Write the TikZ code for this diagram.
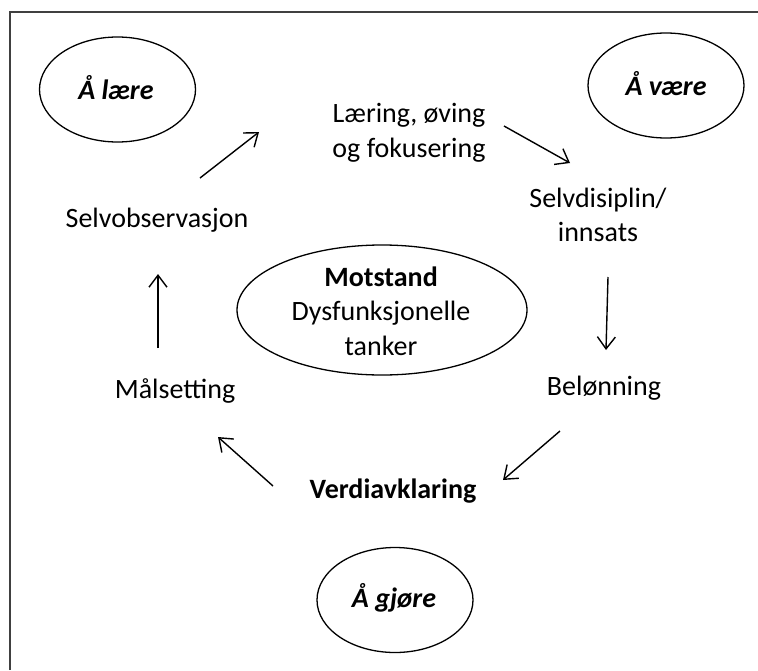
\documentclass[tikz,border=0pt]{standalone}
\usepackage{fontspec}
\setmainfont{Carlito}
\usetikzlibrary{shapes.geometric,arrows.meta}
\begin{document}
\begin{tikzpicture}[x=1pt,y=-1pt,
  label text/.style={font=\fontsize{28}{35}\selectfont, align=center, inner sep=0pt},
  mode/.style={draw, ellipse, line width=1.3pt, inner sep=0pt,
    minimum width=156pt, minimum height=105pt},
  mode text/.style={font=\fontsize{28}{35}\selectfont\bfseries\itshape, inner sep=0pt, anchor=base},
  flow/.style={line width=1.4pt, -{Straight Barb[length=12pt,width=18pt,line width=1.4pt]}}]
\useasboundingbox (0,0) rectangle (758,670);
\fill[white] (0,0) rectangle (758,670);
% frame edges
\draw[line width=2pt, black!75] (10,670) -- (10,12) -- (758,12);

% the three modes
\node[mode] (laere) at (117.5,89.5) {};
\node[mode text] at (116,99) {Å lære};
\node[mode] (vaere) at (666,85.5) {};
\node[mode text] at (666,95) {Å være};
\node[mode] (gjore) at (395,600) {};
\node[mode text] at (394,607) {Å gjøre};

% centre
\node[draw, ellipse, line width=1.3pt, minimum width=290pt, minimum height=130pt, inner sep=0pt] (motstand) at (382,310) {};
\node[label text, anchor=base] at (381,286) {\textbf{Motstand}};
\node[label text, anchor=base] at (381,320) {Dysfunksjonelle};
\node[label text, anchor=base] at (381,355) {tanker};

% cycle steps
\node[label text, anchor=base] (laering) at (409,122) {Læring, øving};
\node[label text, anchor=base] (laering2) at (409,157) {og fokusering};
\node[label text, anchor=base] (disiplin) at (598,207) {Selvdisiplin/};
\node[label text, anchor=base] (disiplin2) at (598,241) {innsats};
\node[label text, anchor=base] (belonning) at (604,395) {Belønning};
\node[label text, anchor=base, font=\fontsize{28}{35}\selectfont\bfseries] (verdi) at (393,498) {Verdiavklaring};
\node[label text, anchor=base] (maal) at (175,398) {Målsetting};
\node[label text, anchor=base] (selvobs) at (157,227) {Selvobservasjon};

% arrow ends
\coordinate (s1) at (200,178); \coordinate (e1) at (259,132);
\coordinate (s2) at (504,126); \coordinate (e2) at (570,163);
\coordinate (s3) at (608,277); \coordinate (e3) at (606,350);
\coordinate (s4) at (560,431); \coordinate (e4) at (503,480);
\coordinate (s5) at (273,486); \coordinate (e5) at (218,437);
\coordinate (s6) at (158,348); \coordinate (e6) at (158,274);

\draw[flow] (s1) -- (e1);
\draw[flow] (s2) -- (e2);
\draw[flow] (s3) -- (e3);
\draw[flow] (s4) -- (e4);
\draw[flow] (s5) -- (e5);
\draw[flow] (s6) -- (e6);
\end{tikzpicture}
\end{document}
